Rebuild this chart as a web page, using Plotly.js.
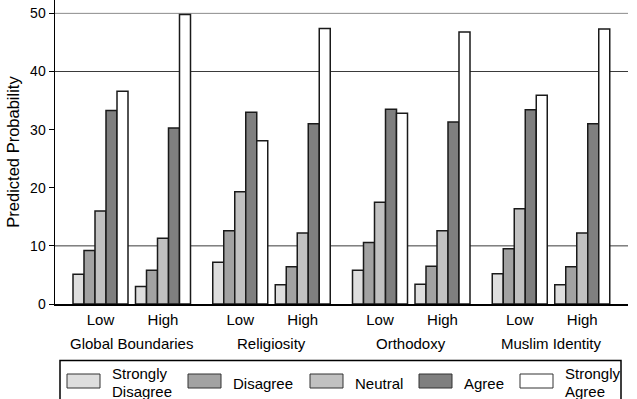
<!DOCTYPE html>
<html>
<head>
<meta charset="utf-8">
<script src="https://cdn.plot.ly/plotly-3.0.1.min.js"></script>
<style>html,body{margin:0;padding:0;background:#fff;}#chart{width:637px;height:399px;}</style>
</head>
<body>
<div id="chart"></div>
<script>
// ---------------- DATA ----------------
const groups = ['Global Boundaries', 'Religiosity', 'Orthodoxy', 'Muslim Identity'];
const levels = ['Low', 'High'];
const seriesNames = ['Strongly Disagree', 'Disagree', 'Neutral', 'Agree', 'Strongly Agree'];
const legendLabels = [['Strongly', 'Disagree'], ['Disagree'], ['Neutral'], ['Agree'], ['Strongly', 'Agree']];
// order: GB Low, GB High, Rel Low, Rel High, Orth Low, Orth High, MI Low, MI High
const stronglyDisagree = [5.1, 3.0, 7.2, 3.3, 5.8, 3.4, 5.2, 3.3];
const disagree         = [9.2, 5.8, 12.6, 6.4, 10.6, 6.5, 9.5, 6.4];
const neutral          = [16.0, 11.3, 19.3, 12.2, 17.5, 12.6, 16.4, 12.2];
const agree            = [33.3, 30.3, 33.0, 31.0, 33.5, 31.3, 33.4, 31.0];
const stronglyAgree    = [36.6, 49.8, 28.1, 47.4, 32.8, 46.8, 35.9, 47.3];
const yTicks = [0, 10, 20, 30, 40, 50];
const gridValues = [10, 40, 50];

// ---------------- LAYOUT / STYLE ----------------
const seriesValues = [stronglyDisagree, disagree, neutral, agree, stronglyAgree];
const colors = ['#dedede', '#a2a2a2', '#c1c1c1', '#7f7f7f', '#ffffff'];
const GROUP_STEP = 2.236;   // distance between group starts (in pair units)
const FONT = 'Liberation Sans, Arial, sans-serif';

const xPos = [];
const xText = [];
groups.forEach((g, gi) => levels.forEach((l, li) => { xPos.push(gi * GROUP_STEP + li); xText.push(l); }));

const traces = seriesNames.map((name, i) => ({
  type: 'bar',
  name: name,
  x: xPos,
  y: seriesValues[i],
  marker: { color: colors[i], line: { color: '#1a1a1a', width: 1.5 } },
  hoverinfo: 'name+y',
  showlegend: false
}));

const M = { l: 55, r: 9, t: 0, b: 95 };
const W = 637, H = 399;
const PW = W - M.l - M.r, PH = H - M.t - M.b;
const px2x = px => (px - M.l) / PW;
const py2y = py => (M.t + PH - py) / PH;

const shapes = gridValues.map(v => ({
  type: 'line', xref: 'paper', yref: 'y', x0: 0, x1: 1, y0: v, y1: v, layer: 'below',
  line: { color: v === 50 ? '#8c8c8c' : '#3a3a3a', width: 1 }
}));

const annotations = groups.map((g, gi) => ({
  text: g, xref: 'x', yref: 'paper', x: gi * GROUP_STEP + 0.5, y: py2y(343),
  xanchor: 'center', yanchor: 'middle', showarrow: false,
  font: { family: FONT, size: 15, color: '#000' }
}));

// legend box
shapes.push({ type: 'rect', xref: 'paper', yref: 'paper', x0: px2x(60), x1: px2x(621), y0: py2y(420), y1: py2y(360.5),
  line: { color: '#000', width: 1.5 }, fillcolor: 'rgba(0,0,0,0)' });
const swatchLeft = [67, 188, 310, 419, 520];
seriesNames.forEach((n, i) => {
  shapes.push({ type: 'rect', xref: 'paper', yref: 'paper',
    x0: px2x(swatchLeft[i]), x1: px2x(swatchLeft[i] + 33), y0: py2y(388), y1: py2y(374),
    line: { color: '#333', width: 1 }, fillcolor: colors[i] });
  const lines = legendLabels[i];
  lines.forEach((t, k) => {
    const cy = lines.length === 1 ? 383 : 373.5 + k * 17.5;
    annotations.push({ text: t, xref: 'paper', yref: 'paper',
      x: px2x(swatchLeft[i] + 43), y: py2y(cy), xanchor: 'left', yanchor: 'middle', align: 'left',
      showarrow: false, font: { family: FONT, size: 15, color: '#000' } });
  });
});

const xmin = -45.5 / 62.5;
const layout = {
  width: W, height: H, margin: M,
  paper_bgcolor: '#fff', plot_bgcolor: '#fff',
  barmode: 'group', bargap: 0.12, bargroupgap: 0,
  showlegend: false,
  font: { family: FONT, size: 14, color: '#000' },
  xaxis: {
    range: [xmin, xmin + PW / 62.5], tickmode: 'array', tickvals: xPos, ticktext: xText,
    showgrid: false, zeroline: false, showline: true, linecolor: '#000', linewidth: 1.8,
    ticks: '', ticklabelstandoff: 1, tickfont: { family: FONT, size: 15, color: '#000' }
  },
  yaxis: {
    range: [0, 52.3], tickmode: 'array', tickvals: yTicks,
    showgrid: false, zeroline: false, showline: true, linecolor: '#000', linewidth: 1.5,
    ticks: 'outside', ticklen: 5, tickwidth: 1, tickcolor: '#000',
    tickfont: { family: FONT, size: 14, color: '#000' },
    title: { text: 'Predicted Probability', standoff: 6, font: { family: FONT, size: 16.5, color: '#000' } }
  },
  shapes: shapes,
  annotations: annotations
};

Plotly.newPlot('chart', traces, layout, { displayModeBar: false, staticPlot: true });
</script>
</body>
</html>
